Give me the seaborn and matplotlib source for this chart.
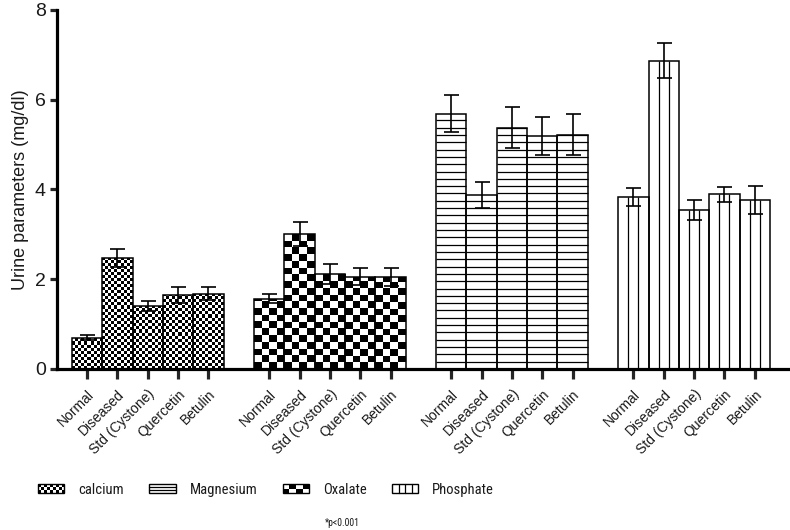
import matplotlib

matplotlib.use("Agg")
import matplotlib.pyplot as plt
import numpy as np
import pandas as pd
import seaborn as sns
from matplotlib import font_manager
from matplotlib.legend_handler import HandlerBase
from matplotlib.lines import Line2D
from matplotlib.patches import Patch, Rectangle

treatments = ["Normal", "Diseased", "Std (Cystone)", "Quercetin", "Betulin"]
groups = ["calcium", "Oxalate", "Magnesium", "Phosphate"]

calcium = [0.70, 2.48, 1.41, 1.65, 1.68]
calcium_sem = [0.05, 0.20, 0.11, 0.17, 0.14]
oxalate = [1.56, 3.01, 2.12, 2.06, 2.05]
oxalate_sem = [0.10, 0.27, 0.22, 0.19, 0.20]
magnesium = [5.69, 3.88, 5.38, 5.19, 5.22]
magnesium_sem = [0.41, 0.29, 0.46, 0.43, 0.46]
phosphate = [3.84, 6.87, 3.55, 3.89, 3.77]
phosphate_sem = [0.20, 0.39, 0.22, 0.17, 0.31]

legend_order = ["calcium", "Magnesium", "Oxalate", "Phosphate"]

values = {
    "calcium": (calcium, calcium_sem),
    "Oxalate": (oxalate, oxalate_sem),
    "Magnesium": (magnesium, magnesium_sem),
    "Phosphate": (phosphate, phosphate_sem),
}

rows = []
for gi, g in enumerate(groups):
    vals, sems = values[g]
    for ti, t in enumerate(treatments):
        rows.append(
            {"group": g, "treatment": t, "value": vals[ti], "sem": sems[ti], "pos": gi * 6 + ti}
        )
df = pd.DataFrame(rows).sort_values("pos").reset_index(drop=True)

sns.set_style("ticks")
names = {f.name for f in font_manager.fontManager.ttflist}
narrow = "Roboto Condensed" if "Roboto Condensed" in names else "Liberation Sans"
plt.rcParams["font.family"] = ["Liberation Sans", "DejaVu Sans"]
text_color = "#1a1a1a"

fig = plt.figure(figsize=(7.9, 5.3), dpi=100)
ax = fig.add_axes([0.0722, 0.3038, 0.9266, 0.6774])

sns.barplot(
    data=df,
    x="pos",
    y="value",
    native_scale=True,
    width=1.0,
    color="white",
    edgecolor="black",
    linewidth=1.1,
    errorbar=None,
    ax=ax,
)

# textures (checkerboards / stripes) inside each bar
patches = sorted(ax.patches, key=lambda p: p.get_x())
y_px = 44.8  # pixels per data unit on y
for p, (_, row) in zip(patches, df.iterrows()):
    x0, w, h = p.get_x(), p.get_width(), p.get_height()
    p.set_facecolor("none")
    p.set_zorder(3)
    g = row["group"]
    if g in ("calcium", "Oxalate"):
        nx, cell_y = (10, 3.0 / y_px) if g == "calcium" else (4, 6.7 / y_px)
        ny = int(np.ceil(h / cell_y)) + 1
        board = np.add.outer(np.arange(ny), np.arange(nx)) % 2
        im = ax.imshow(
            board,
            cmap="gray",
            extent=(x0, x0 + w, 0, ny * cell_y),
            origin="lower",
            aspect="auto",
            interpolation="nearest",
            zorder=2,
        )
        im.set_clip_path(p)
    elif g == "Magnesium":
        ys = np.arange(7.3 / y_px, h, 7.3 / y_px)
        ax.hlines(ys, x0, x0 + w, color="black", linewidth=0.9, zorder=2)
    else:
        xs = [x0 + w / 3, x0 + 2 * w / 3]
        ax.vlines(xs, 0, h, color="black", linewidth=0.9, zorder=2)

ax.errorbar(
    df["pos"],
    df["value"],
    yerr=df["sem"],
    fmt="none",
    ecolor="black",
    elinewidth=1.2,
    capsize=5.4,
    capthick=1.2,
    zorder=4,
)

ax.set_xlim(-0.99, 23.13)
ax.set_ylim(0, 8)
ax.set_yticks([0, 2, 4, 6, 8])
ax.set_yticklabels(["0", "2", "4", "6", "8"], fontsize=14, color=text_color)
ax.set_xticks(df["pos"])
ax.set_xticklabels(
    df["treatment"],
    rotation=45,
    ha="right",
    rotation_mode="anchor",
    fontsize=10,
    color=text_color,
)
ax.set_xlabel("")
ax.set_ylabel("Urine parameters (mg/dl)", fontsize=13, color=text_color, labelpad=4)

sns.despine(ax=ax)
for side in ("left", "bottom"):
    ax.spines[side].set_linewidth(2.3)
    ax.spines[side].set_color("black")
ax.tick_params(axis="y", length=5, width=2.3, pad=3)
ax.tick_params(axis="x", length=7, width=2.3, pad=6)


class PatternHandler(HandlerBase):
    def __init__(self, kind, n=(1, 1)):
        super().__init__()
        self.kind = kind
        self.n = n

    def create_artists(self, legend, orig_handle, xdescent, ydescent, width, height, fontsize, trans):
        x0, y0 = -xdescent, -ydescent
        arts = [Rectangle((x0, y0), width, height, facecolor="white", edgecolor="none", transform=trans)]
        if self.kind == "checker":
            nx, ny = self.n
            cw, ch = width / nx, height / ny
            for i in range(nx):
                for j in range(ny):
                    if (i + j) % 2 == 0:
                        arts.append(
                            Rectangle((x0 + i * cw, y0 + j * ch), cw, ch, facecolor="black",
                                      edgecolor="none", transform=trans)
                        )
        elif self.kind == "h":
            k = self.n[1]
            for j in range(1, k):
                yy = y0 + j * height / k
                arts.append(Line2D([x0, x0 + width], [yy, yy], color="black", lw=0.9, transform=trans))
        else:
            k = self.n[0]
            for i in range(1, k):
                xx = x0 + i * width / k
                arts.append(Line2D([xx, xx], [y0, y0 + height], color="black", lw=0.9, transform=trans))
        arts.append(Rectangle((x0, y0), width, height, facecolor="none", edgecolor="black",
                              linewidth=1.0, transform=trans))
        return arts


handles = [Patch(label=g) for g in legend_order]
hmap = {
    handles[0]: PatternHandler("checker", (9, 3)),
    handles[1]: PatternHandler("h", (1, 3)),
    handles[2]: PatternHandler("checker", (4, 2)),
    handles[3]: PatternHandler("v", (4, 1)),
}
fig.legend(
    handles=handles,
    labels=legend_order,
    handler_map=hmap,
    loc="center",
    bbox_to_anchor=(0.337, 0.076),
    ncol=4,
    frameon=False,
    prop={"family": narrow, "size": 10.5},
    handlelength=1.8,
    handleheight=0.55,
    handletextpad=0.95,
    columnspacing=1.75,
    labelcolor=text_color,
)

fig.text(0.434, 0.013, "*p<0.001", fontsize=7, color=text_color, ha="center", va="center", family=narrow)

fig.savefig("out.png", dpi=100)
plt.close(fig)
